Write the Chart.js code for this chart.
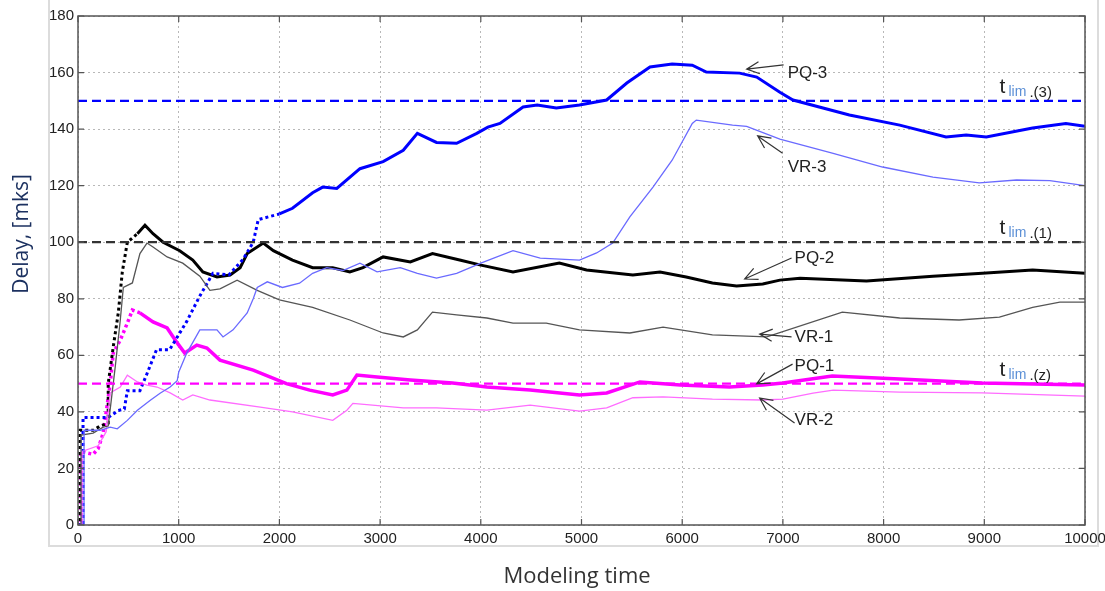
<!DOCTYPE html>
<html>
<head>
<meta charset="utf-8">
<script src="https://cdn.jsdelivr.net/npm/chart.js@4"></script>
<style>
  html, body { margin: 0; padding: 0; background: #fff; }
  #wrap { position: relative; width: 1105px; height: 591px; }
</style>
</head>
<body>
<div id="wrap"><canvas id="delayChart" width="1105" height="591"></canvas></div>
<script>
// ── Data (x = modeling time, y = delay, mks) ──
const xTicks = [0, 1000, 2000, 3000, 4000, 5000, 6000, 7000, 8000, 9000, 10000];
const yTicks = [0, 20, 40, 60, 80, 100, 120, 140, 160, 180];

const pq3 = [[0,0],[50,0],[50,38],[300,38],[400,40.5],[460,41],[490,47.5],[615,47.5],[685,53.5],[780,62],[910,62],
  [1080,72],[1210,81],[1340,89],[1500,88.5],[1640,94],[1740,100],[1790,108],[2000,110],[2130,112],[2330,117.5],
  [2430,119.5],[2570,119],[2800,126],[3030,128.5],[3230,132.5],[3370,138.5],[3560,135.3],[3760,135],[3960,138.5],
  [4070,140.7],[4190,142],[4420,147.8],[4560,148.5],[4750,147.5],[4980,148.5],[5250,150.3],[5450,156.3],[5680,162],
  [5900,163],[6100,162.6],[6240,160.2],[6570,159.8],[6740,158.4],[6970,153],[7100,150.3],[7660,145],[8160,141.4],
  [8620,137.2],[8820,137.9],[9020,137.2],[9480,140.4],[9810,142],[10000,141]];

const vr3 = [[0,0],[60,0],[60,33.5],[220,33.5],[320,34.6],[390,34],[490,37],[590,40.6],[715,44],[815,46.6],[915,48.8],
  [985,51],[1000,54],[1080,60.8],[1210,69],[1380,69],[1440,66.5],[1540,69],[1680,75],[1740,80],[1780,84],[1880,86],
  [2030,84],[2200,85.5],[2330,89],[2470,91],[2630,90],[2800,92.6],[2970,89.5],[3200,91],[3370,89],[3560,87.3],
  [3760,89],[3960,92],[4000,92.6],[4320,97],[4590,94.4],[4980,93.7],[5150,96.2],[5310,99.7],[5480,109],[5710,119.5],
  [5900,129],[6100,142],[6140,143.2],[6500,141.4],[6640,141],[6970,136.5],[7490,131.5],[7990,126.6],[8490,123],
  [8950,121],[9320,122],[9650,121.8],[10000,120]];

const pq2 = [[0,0],[20,0],[20,33.5],[150,33.5],[220,35],[300,36],[300,50],[350,63],[400,75],[440,89.5],[490,100],
  [590,103],[665,106],[745,103],[845,100],[1010,97],[1140,93.7],[1240,89.5],[1380,87.7],[1510,88.4],[1610,91],
  [1680,96],[1840,99.7],[1940,97],[2130,93.7],[2330,91],[2530,91],[2700,89.5],[2830,91],[3030,94.8],[3300,93],
  [3520,96],[3790,93.7],[3990,92],[4320,89.5],[4780,92.6],[5050,90.2],[5510,88.4],[5780,89.5],[6040,87.7],
  [6300,85.6],[6540,84.5],[6800,85.2],[6970,86.6],[7170,87.3],[7830,86.3],[8490,88],[8980,89],[9480,90.2],[10000,89]];

const vr1 = [[0,0],[30,0],[30,31.8],[150,32.5],[250,34.6],[300,35],[370,56],[420,72.5],[450,84],[540,85.6],[615,96],
  [685,99.7],[745,98.3],[885,94.8],[1040,92.6],[1210,88],[1310,83],[1410,83.5],[1580,86.6],[1780,83],[2000,79.6],
  [2330,77],[2700,72.5],[3030,67.9],[3230,66.5],[3370,69],[3520,75.3],[3760,74.3],[4060,73.2],[4320,71.4],
  [4650,71.4],[4980,69],[5480,67.9],[5810,70],[6300,67.2],[6640,66.8],[6840,66.5],[7590,75.3],[8160,73.2],
  [8750,72.5],[9150,73.5],[9480,77],[9750,78.8],[10000,78.8]];

const pq1 = [[0,0],[30,0],[30,26],[150,25],[200,27],[250,32.5],[320,50],[350,60.8],[420,65.4],[490,71.4],[540,76],
  [615,75],[745,71.8],[885,69.7],[985,64.4],[1060,60.8],[1180,63.6],[1280,62.6],[1410,58.3],[1740,54.8],[2070,50],
  [2300,47.7],[2530,46],[2670,47.7],[2770,53],[2970,52.3],[3300,51.3],[3720,50.2],[4060,48.8],[4490,47.7],
  [4980,46],[5250,46.7],[5580,50.6],[5980,49.5],[6470,48.8],[6800,49.5],[7000,50.2],[7490,52.7],[8160,51.6],
  [8980,50.2],[10000,49.5]];

const vr2 = [[0,0],[40,0],[40,26],[200,28],[280,33],[320,46.7],[420,48.8],[490,53],[590,50.6],[685,49.5],[785,48.8],
  [915,46.7],[1040,44.2],[1140,46],[1310,44.2],[1810,41.7],[2130,40],[2530,37],[2670,40.6],[2730,43],[3230,41.4],
  [3560,41.4],[4060,40.6],[4490,42.4],[4980,40.3],[5250,41.4],[5510,45],[5810,45.3],[6300,44.5],[6800,44.2],
  [7000,44.5],[7300,46.6],[7500,47.7],[8160,47],[8980,46.7],[10000,45.6]];

// limit lines t_lim
const limValues = [150, 100, 50];
const limSuffix = ['.(3)', '.(1)', '.(z)'];
const limColors = ['#0000ff', '#333333', '#ff00ff'];

// arrow annotations: tip on the curve, tail near the text, text anchor (data coords)
const noteText = ['PQ-3', 'VR-3', 'PQ-2', 'VR-1', 'PQ-1', 'VR-2'];
const noteTip  = [[6640,161.2],[6749,137.6],[6620,87],[6769,67.5],[6739,49.9],[6769,44.9]];
const noteTail = [[7007,162.7],[6997,131.5],[7086,94.4],[7086,66.5],[7096,56.9],[7116,36.1]];
const noteAt   = [[7047,159.8],[7047,126.6],[7116,94.4],[7116,66.5],[7116,56.2],[7116,37.1]];

const toXY = arr => arr.map(p => ({ x: p[0], y: p[1] }));

function series(label, data, color, width, earlyDash) {
  return {
    label, data: toXY(data), borderColor: color, borderWidth: width,
    pointRadius: 0, tension: 0, fill: false,
    segment: earlyDash ? { borderDash: c => c.p0.parsed.x < earlyDash ? [3, 3] : undefined } : undefined
  };
}

function limLine(v, color) {
  return {
    label: 't_lim ' + v, data: [{ x: 0, y: v }, { x: 10000, y: v }],
    borderColor: color, borderWidth: 2.2, borderDash: [9, 5], pointRadius: 0, fill: false
  };
}

// ── Extra drawing: frame, inner ticks, notes, titles ──
const decor = {
  id: 'decor',
  beforeDraw(chart) {
    const ctx = chart.ctx;
    ctx.save();
    ctx.strokeStyle = '#dcdcdc';
    ctx.lineWidth = 2;
    ctx.beginPath();
    ctx.moveTo(49, 0); ctx.lineTo(49, 546); ctx.lineTo(1098, 546); ctx.lineTo(1098, 0);
    ctx.stroke();
    ctx.restore();
  },
  afterDatasetsDraw(chart) {
    const { ctx, chartArea: a, scales: { x, y } } = chart;
    ctx.save();
    // box + inner ticks
    ctx.strokeStyle = '#555';
    ctx.lineWidth = 1.5;
    ctx.strokeRect(a.left, a.top, a.right - a.left, a.bottom - a.top);
    ctx.lineWidth = 1.2;
    ctx.beginPath();
    xTicks.forEach(t => {
      const px = x.getPixelForValue(t);
      ctx.moveTo(px, a.bottom); ctx.lineTo(px, a.bottom - 6);
      ctx.moveTo(px, a.top); ctx.lineTo(px, a.top + 6);
    });
    yTicks.forEach(t => {
      const py = y.getPixelForValue(t);
      ctx.moveTo(a.left, py); ctx.lineTo(a.left + 6, py);
      ctx.moveTo(a.right, py); ctx.lineTo(a.right - 6, py);
    });
    ctx.stroke();

    // x tick labels (drawn here so 10000 can run off the edge like the original)
    ctx.fillStyle = '#222';
    ctx.font = '15px "Liberation Sans", Arial, sans-serif';
    ctx.textAlign = 'center';
    ctx.textBaseline = 'top';
    xTicks.forEach(t => ctx.fillText(String(t), x.getPixelForValue(t), a.bottom + 6));
    ctx.textAlign = 'left';

    // arrows + labels
    ctx.strokeStyle = '#333';
    ctx.lineWidth = 1.2;
    ctx.fillStyle = '#222';
    ctx.font = '17px "Liberation Sans", Arial, sans-serif';
    ctx.textBaseline = 'middle';
    noteText.forEach((txt, i) => {
      const tx = x.getPixelForValue(noteTip[i][0]), ty = y.getPixelForValue(noteTip[i][1]);
      const sx = x.getPixelForValue(noteTail[i][0]), sy = y.getPixelForValue(noteTail[i][1]);
      const ang = Math.atan2(sy - ty, sx - tx);
      ctx.beginPath();
      ctx.moveTo(sx, sy); ctx.lineTo(tx, ty);
      ctx.moveTo(tx + 14 * Math.cos(ang + 0.45), ty + 14 * Math.sin(ang + 0.45));
      ctx.lineTo(tx, ty);
      ctx.lineTo(tx + 14 * Math.cos(ang - 0.45), ty + 14 * Math.sin(ang - 0.45));
      ctx.stroke();
      ctx.fillText(txt, x.getPixelForValue(noteAt[i][0]), y.getPixelForValue(noteAt[i][1]));
    });

    // t_lim labels
    ctx.textBaseline = 'alphabetic';
    limValues.forEach((v, i) => {
      const bx = x.getPixelForValue(9150);
      const by = y.getPixelForValue(v) - 8;
      ctx.fillStyle = '#222';
      ctx.font = '21px "Liberation Sans", Arial, sans-serif';
      ctx.fillText('t', bx, by);
      ctx.fillStyle = '#5b8fd6';
      ctx.font = '14px "Liberation Sans", Arial, sans-serif';
      ctx.fillText('lim', bx + 9, by + 3);
      ctx.fillStyle = '#222';
      ctx.font = '15px "Liberation Sans", Arial, sans-serif';
      ctx.fillText(limSuffix[i], bx + 30, by + 4);
    });

    // axis titles
    ctx.fillStyle = '#333';
    ctx.font = '22px "Open Sans", sans-serif';
    ctx.textAlign = 'center';
    ctx.textBaseline = 'middle';
    ctx.fillText('Modeling time', 577, 577);
    ctx.translate(22, 234);
    ctx.rotate(-Math.PI / 2);
    ctx.fillStyle = '#1c3160';
    ctx.font = '21px "Open Sans", sans-serif';
    ctx.fillText('Delay, [mks]', 0, 0);
    ctx.restore();
  }
};

new Chart(document.getElementById('delayChart'), {
  type: 'line',
  data: {
    datasets: [
      limLine(limValues[0], limColors[0]),
      limLine(limValues[1], limColors[1]),
      limLine(limValues[2], limColors[2]),
      series('VR-3', vr3, '#6a6aff', 1.3),
      series('VR-1', vr1, '#555555', 1.3),
      series('VR-2', vr2, '#ff6cff', 1.3),
      series('PQ-3', pq3, '#0000ff', 3, 1800),
      series('PQ-2', pq2, '#000000', 3, 500),
      series('PQ-1', pq1, '#ff00ff', 3.5, 600)
    ]
  },
  options: {
    responsive: false,
    animation: false,
    layout: { padding: { left: 0, top: 16, right: 20, bottom: 0 } },
    plugins: { legend: { display: false }, tooltip: { enabled: false } },
    scales: {
      x: {
        type: 'linear', min: 0, max: 10000,
        afterFit: s => { s.height = 66; },
        afterBuildTicks: s => { s.ticks = xTicks.map(v => ({ value: v })); },
        ticks: { display: false },
        grid: { color: '#b8b8b8', drawTicks: false },
        border: { display: false, dash: [2, 3] }
      },
      y: {
        min: 0, max: 180,
        afterFit: s => { s.width = 78; },
        afterBuildTicks: s => { s.ticks = yTicks.map(v => ({ value: v })); },
        ticks: { color: '#222', font: { size: 15, family: '"Liberation Sans", Arial' }, padding: 4,
                 callback: v => String(v) },
        grid: { color: '#b8b8b8', drawTicks: false },
        border: { display: false, dash: [2, 3] }
      }
    }
  },
  plugins: [decor]
});
</script>
</body>
</html>
